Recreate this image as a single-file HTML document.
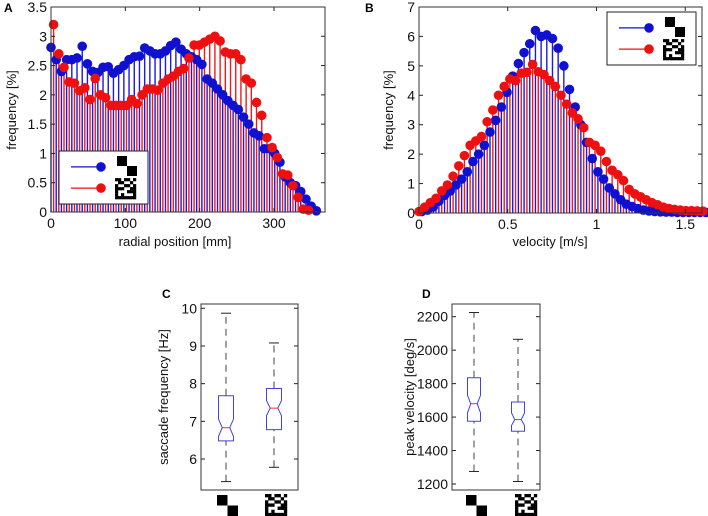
<!DOCTYPE html>
<html><head><meta charset="utf-8"><style>
body{margin:0;background:#fff;}
svg{display:block;font-family:"Liberation Sans",Arial,sans-serif;}
</style></head><body>
<svg id="fig" width="708" height="516" viewBox="0 0 708 516" xmlns="http://www.w3.org/2000/svg"></svg>
<script>
// Panel A data (radial position, mm)
const aBlue = [2.81,2.6,2.40,2.6,2.6,2.63,2.83,2.53,2.4,2.38,2.47,2.48,2.37,2.43,2.5,2.6,2.65,2.66,2.8,2.75,2.7,2.7,2.75,2.84,2.9,2.78,2.7,2.65,2.6,2.52,2.27,2.2,2.1,2.0,1.9,1.82,1.75,1.62,1.5,1.35,1.3,1.08,1.08,1.0,0.85,0.6,0.5,0.45,0.35,0.22,0.1,0.02];
const aRed = [3.2,2.7,2.47,2.22,2.2,2.07,2.12,1.92,2.28,2.0,1.95,1.82,1.82,1.82,1.82,1.92,1.85,2.0,2.1,2.1,2.08,2.2,2.27,2.32,2.4,2.45,2.63,2.85,2.85,2.9,2.95,3.0,2.92,2.73,2.7,2.7,2.6,2.27,2.2,1.87,1.65,1.27,1.1,0.93,0.65,0.63,0.45,0.25,0.05,0.03];
const aBinWidth = 7;
const aXTicks = [0,100,200,300];
const aYTicks = [0,0.5,1,1.5,2,2.5,3,3.5];
// Panel B data (velocity, m/s)
const bBlue = [0.05,0.1,0.2,0.4,0.6,0.75,0.95,1.15,1.4,1.75,2.0,2.3,2.75,3.15,3.6,4.1,4.65,5.08,5.45,5.75,6.2,6.0,6.05,5.93,5.6,5.0,4.2,3.6,3.0,2.4,1.85,1.4,1.15,0.85,0.65,0.45,0.3,0.22,0.15,0.1,0.07,0.05,0.04,0.03,0.03,0.02,0.02,0.02,0.02,0.02,0.02];
const bRed = [0.05,0.2,0.35,0.5,0.75,0.95,1.25,1.6,1.95,2.3,2.45,2.6,3.1,3.5,4.0,4.3,4.55,4.5,4.75,4.78,5.05,4.8,4.7,4.5,4.3,4.0,3.7,3.4,3.2,2.9,2.4,2.3,2.1,1.75,1.45,1.3,1.1,0.8,0.65,0.55,0.45,0.35,0.28,0.2,0.15,0.12,0.1,0.08,0.08,0.07,0.06];
const bBinWidth = 0.032;
const bXTicks = [0,0.5,1,1.5];
const bYTicks = [0,1,2,3,4,5,6,7];
// Panel C boxplots (saccade frequency, Hz): [whiskLo, q1, notchLo, median, notchHi, q3, whiskHi]
const cBox1 = [5.4,6.48,6.6,6.83,7.06,7.68,9.87];
const cBox2 = [5.78,6.78,7.15,7.35,7.55,7.87,9.08];
const cYTicks = [6,7,8,9,10];
// Panel D boxplots (peak velocity, deg/s)
const dBox1 = [1275,1575,1625,1680,1730,1835,2225];
const dBox2 = [1215,1515,1550,1585,1625,1690,2065];
const dYTicks = [1200,1400,1600,1800,2000,2200];

const NS="http://www.w3.org/2000/svg";
const svg=document.getElementById('fig');
function el(tag,attrs,parent){const e=document.createElementNS(NS,tag);for(const k in attrs)e.setAttribute(k,attrs[k]);(parent||svg).appendChild(e);return e;}
function txt(s,attrs,parent){const e=el('text',attrs,parent);e.textContent=s;return e;}

function axesFrame(g,L,R,T,B,xs,ys,xt,yt,xfmt,yfmt,tickLen,fs){
  for(const v of yt){const y=ys(v);
    el('line',{x1:L,x2:L+tickLen,y1:y,y2:y,stroke:'#222','stroke-width':1},g);
    el('line',{x1:R,x2:R-tickLen,y1:y,y2:y,stroke:'#222','stroke-width':1},g);
    const t=txt(yfmt(v),{x:L-4,y:y+5,'text-anchor':'end','font-size':fs,fill:'#111'},g);
    
    
  }
  for(const v of (xt||[])){const x=xs(v);
    el('line',{x1:x,x2:x,y1:B,y2:B-tickLen,stroke:'#222','stroke-width':1},g);
    el('line',{x1:x,x2:x,y1:T,y2:T+tickLen,stroke:'#222','stroke-width':1},g);
    const t=txt(xfmt(v),{x:x,y:B+16,'text-anchor':'middle','font-size':fs,fill:'#111'},g);
    
    
  }
  const r=el('rect',{x:L,y:T,width:R-L,height:B-T,fill:'none',stroke:'#333','stroke-width':1},g);
  
  
}
function stems(g,vals,xf,ys,color,name){
  vals.forEach((v,i)=>{const x=xf(i);
    const l=el('line',{x1:x,x2:x,y1:ys(0),y2:ys(v),stroke:color,'stroke-width':1.4},g);
    
    
  });
}
function marks(g,vals,xf,ys,color,name){
  vals.forEach((v,i)=>{const x=xf(i);
    const c=el('circle',{cx:x,cy:ys(v),r:4.8,fill:color},g);
    
    
  });
}
function checkerIcon(g,x,y,s){
  el('rect',{x:x,y:y,width:s,height:s,fill:'#000'},g);
  el('rect',{x:x+s,y:y+s,width:s,height:s,fill:'#000'},g);
}
const noisePat=["1101101","0110010","1001101","1110011","1000111","1010001","1111111"];
function noiseIcon(g,x,y,s){
  const c=s/7;
  noisePat.forEach((row,r)=>{[...row].forEach((b,k)=>{if(b==='1')el('rect',{x:x+k*c,y:y+r*c,width:c+0.2,height:c+0.2,fill:'#000'},g);});});
}
function legend(g,x,y,w,h){
  const lg=el('g',{},g);
  
  
  el('rect',{x:x,y:y,width:w,height:h,fill:'#fff',stroke:'#222','stroke-width':1},lg);
  const e1=el('g',{},lg);
  
  
  el('line',{x1:x+12,x2:x+42,y1:y+h*0.3,y2:y+h*0.3,stroke:'#1010d0','stroke-width':1.2},e1);
  el('circle',{cx:x+42,cy:y+h*0.3,r:4.8,fill:'#1010d0'},e1);
  checkerIcon(e1,x+58,y+5,10);
  const e2=el('g',{},lg);
  
  
  el('line',{x1:x+12,x2:x+42,y1:y+h*0.7,y2:y+h*0.7,stroke:'#ee1010','stroke-width':1.2},e2);
  el('circle',{cx:x+42,cy:y+h*0.7,r:4.8,fill:'#ee1010'},e2);
  noiseIcon(e2,x+56,y+h*0.7-10,21);
}
function panelLabel(s,x,y){const t=txt(s,{x:x,y:y,'font-size':12,'font-weight':'bold',fill:'#000'});}
function yTitle(g,s,x,y){const t=txt(s,{x:0,y:0,'font-size':13,fill:'#111','text-anchor':'middle',transform:`translate(${x},${y}) rotate(-90)`},g);}
function xTitle(g,s,x,y){const t=txt(s,{x:x,y:y,'font-size':13,fill:'#111','text-anchor':'middle'},g);}

// ---- Panel A
(function(){
  const g=el('g',{});
  const L=51,R=325,T=7,B=212;
  const xs=v=>L+(v-0)*(223/300), ys=v=>B-(v/3.5)*(B-T);
  const bx=i=>xs(i*aBinWidth), rx=i=>xs(i*aBinWidth+aBinWidth*0.5);
  stems(g,aBlue,bx,ys,'#1a1ad8','blue-series');
  stems(g,aRed,rx,ys,'#ee1a1a','red-series');
  marks(g,aBlue,bx,ys,'#1010d0','blue-series');
  marks(g,aRed,rx,ys,'#ee1010','red-series');
  axesFrame(g,L,R,T,B,xs,ys,aXTicks,aYTicks,v=>String(v),v=>String(v),4,14);
  legend(g,59,151,89,53);
  yTitle(g,'frequency [%]',16,110);
  xTitle(g,'radial position [mm]',175,246);
})();
// ---- Panel B
(function(){
  const g=el('g',{});
  const L=419,R=702,T=7,B=213;
  const xs=v=>L+v*(177.5/1), ys=v=>B-(v/7)*(B-T);
  const bx=i=>xs(i*bBinWidth+bBinWidth*0.5), rx=i=>xs(i*bBinWidth);
  stems(g,bBlue,bx,ys,'#1a1ad8','blue-series');
  stems(g,bRed,rx,ys,'#ee1a1a','red-series');
  marks(g,bBlue,bx,ys,'#1010d0','blue-series');
  marks(g,bRed,rx,ys,'#ee1010','red-series');
  axesFrame(g,L,R,T,B,xs,ys,bXTicks,bYTicks,v=>String(v),v=>String(v),4,14);
  legend(g,607,12,89,53);
  yTitle(g,'frequency [%]',393,110);
  xTitle(g,'velocity [m/s]',550,246);
})();
function boxplot(g,b,cx,ys,hw,name){
  const bg=el('g',{},g);
  const [wl,q1,nl,md,nh,q3,wh]=b.map(ys);
  const nw=hw*0.5;
  el('line',{x1:cx,x2:cx,y1:wl,y2:q1,stroke:'#444','stroke-dasharray':'7,5'},bg);
  el('line',{x1:cx,x2:cx,y1:q3,y2:wh,stroke:'#444','stroke-dasharray':'7,5'},bg);
  el('line',{x1:cx-5,x2:cx+5,y1:wl,y2:wl,stroke:'#222'},bg);
  el('line',{x1:cx-5,x2:cx+5,y1:wh,y2:wh,stroke:'#222'},bg);
  const p=`M${cx-hw},${q1} L${cx+hw},${q1} L${cx+hw},${nl} L${cx+nw},${md} L${cx+hw},${nh} L${cx+hw},${q3} L${cx-hw},${q3} L${cx-hw},${nh} L${cx-nw},${md} L${cx-hw},${nl} Z`;
  el('path',{d:p,fill:'#fff',stroke:'#4444dd','stroke-width':1},bg);
  el('line',{x1:cx-nw,x2:cx+nw,y1:md,y2:md,stroke:'#ee3030'},bg);
}
// ---- Panel C
(function(){
  const g=el('g',{});
  const L=201,R=298,T=304,B=490;
  const ys=v=>459-(v-6)*((459-308.3)/4);
  boxplot(g,cBox1,226,ys,7.5,'box-checker');
  boxplot(g,cBox2,274,ys,7.5,'box-noise');
  axesFrame(g,L,R,T,B,null,ys,[],cYTicks,null,v=>String(v),4,14);
  checkerIcon(g,217,495,10.5);
  noiseIcon(g,265,494,22);
  yTitle(g,'saccade frequency [Hz]',168,397);
})();
// ---- Panel D
(function(){
  const g=el('g',{});
  const L=452,R=540,T=304,B=490;
  const ys=v=>484-(v-1200)*((484-316.7)/1000);
  boxplot(g,dBox1,474,ys,6.5,'box-checker');
  boxplot(g,dBox2,518,ys,6.5,'box-noise');
  axesFrame(g,L,R,T,B,null,ys,[],dYTicks,null,v=>String(v),4,14);
  checkerIcon(g,466,495,10.5);
  noiseIcon(g,515,494,22);
  yTitle(g,'peak velocity [deg/s]',414,397);
})();
panelLabel('A',4,12);
panelLabel('B',365,12);
panelLabel('C',162,298);
panelLabel('D',422,298);
</script>
</body></html>
